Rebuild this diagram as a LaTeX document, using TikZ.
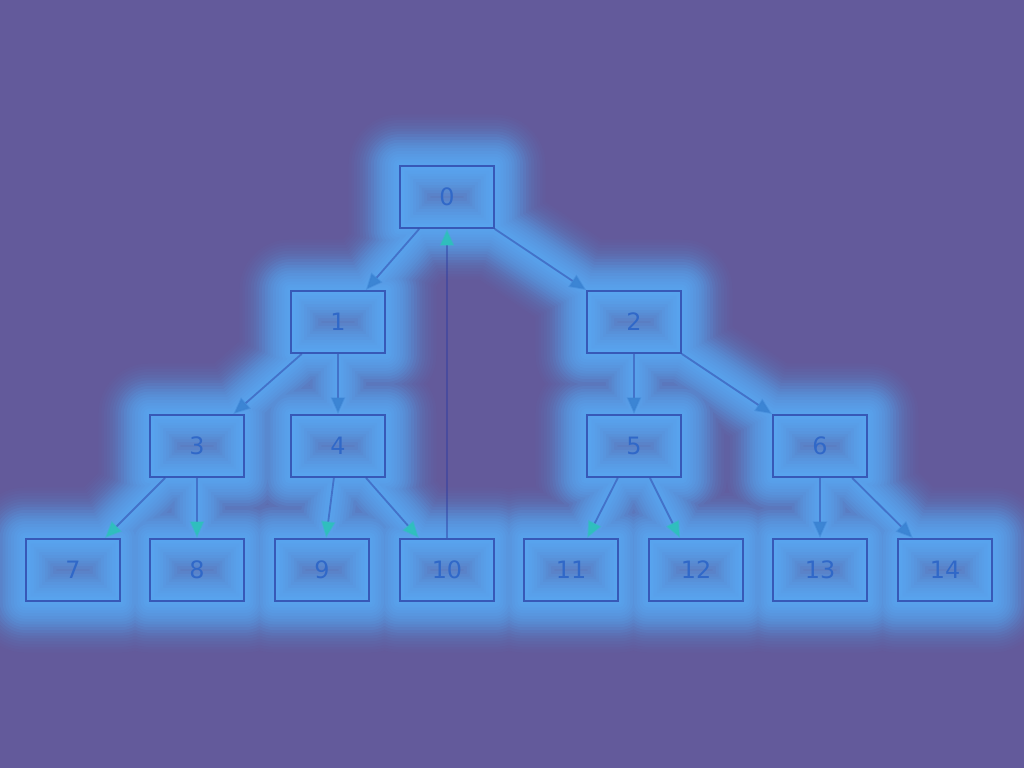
\documentclass[tikz,border=0pt]{standalone}
\usepackage{fontspec}
\setmainfont{DejaVu Sans}
\usetikzlibrary{arrows.meta,positioning,backgrounds}
\definecolor{tbg}{HTML}{635A9B}
\definecolor{tglow}{HTML}{58B4FF}
\definecolor{tline}{HTML}{2A3AA0}
\definecolor{ttext}{HTML}{3068C8}
\definecolor{tteal}{HTML}{2CC2BA}
\definecolor{tblue}{HTML}{3A82D2}
\tikzset{
  >={Triangle[length=4.2mm,width=3.6mm,color=tblue]},
  tbox/.style={rectangle, draw=tline, draw opacity=0.7, line width=1.3pt,
               minimum width=23.5mm, minimum height=15.5mm, inner sep=0pt,
               text=ttext, font=\fontsize{17}{20}\selectfont},
  tedge/.style={->, draw=tline, line width=1.3pt, draw opacity=0.45, fill opacity=0.9},
  tedgeteal/.style={tedge, -{Triangle[length=4.2mm,width=3.6mm,color=tteal]}},
  tglowline/.style={tglow, line cap=round, line join=round},
}

\begin{document}
\begin{tikzpicture}

  \useasboundingbox (0,0) rectangle (25.6,19.2);

  % caixas da arvore
  \foreach \i/\x/\y in {0/11.175/14.275, 1/8.45/11.15, 2/15.85/11.15,
                        3/4.925/8.05, 4/8.45/8.05, 5/15.85/8.05, 6/20.5/8.05,
                        7/1.825/4.95, 8/4.925/4.95, 9/8.05/4.95, 10/11.175/4.95,
                        11/14.275/4.95, 12/17.4/4.95, 13/20.5/4.95, 14/23.625/4.95}
    \node[tbox] (n\i) at (\x,\y) {\i};

  % fundo e brilho por baixo (nucleo forte, cauda fraca)
  \begin{scope}[on background layer]
    \fill[tbg] (0,0) rectangle (25.6,19.2);
    \foreach \w/\op in {72/0.025, 68/0.03, 64/0.035, 60/0.04, 56/0.05, 52/0.06,
                        48/0.08, 44/0.1, 40/0.11, 36/0.12, 32/0.13, 28/0.13,
                        24/0.13, 20/0.13, 16/0.13, 12/0.13, 8/0.13, 4/0.13}
      \draw[tglowline, line width=\w pt, opacity=\op]
        (n0) -- (n1) (n0) -- (n2) (n1) -- (n3) (n1) -- (n4)
        (n2) -- (n5) (n2) -- (n6) (n3) -- (n7) (n3) -- (n8)
        (n4) -- (n9) (n4) -- (n10) (n5) -- (n11) (n5) -- (n12)
        (n6) -- (n13) (n6) -- (n14)
        \foreach \i in {0,...,14} {(n\i.south west) rectangle (n\i.north east)};
    \fill[tglow, opacity=0.2]
      \foreach \i in {0,...,14} {(n\i.south west) rectangle (n\i.north east)};
  \end{scope}

  % arestas
  \foreach \a/\b in {0/1, 0/2, 1/3, 1/4, 2/5, 2/6, 6/13, 6/14}
    \draw[tedge] (n\a) -- (n\b);
  \foreach \a/\b in {3/7, 3/8, 4/9, 4/10, 5/11, 5/12, 10/0}
    \draw[tedgeteal] (n\a) -- (n\b);

\end{tikzpicture}
\end{document}
